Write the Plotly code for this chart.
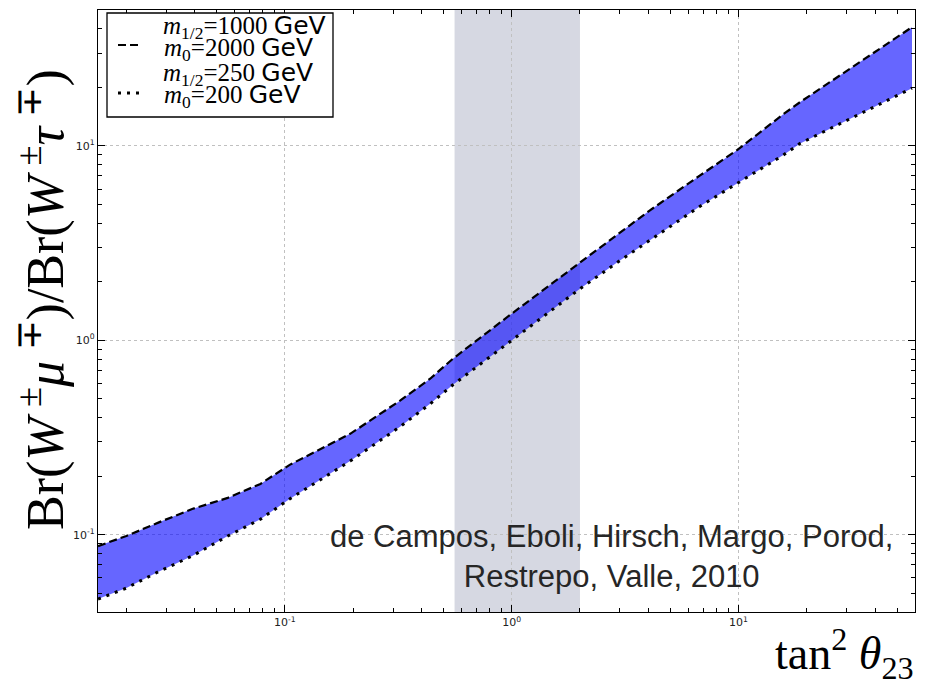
import plotly.graph_objects as go
import math

# data
tan2 = [0.015, 0.020, 0.028, 0.039, 0.056, 0.078, 0.105, 0.194, 0.322, 0.437, 0.551,
        1.0, 2.0, 3.0, 4.07, 6.77, 9.85, 15.7, 18.7, 26.1, 36.8, 58.2]
ratio_heavy = [0.0873, 0.0984, 0.116, 0.1355, 0.1545, 0.1824, 0.2286, 0.330, 0.489, 0.634, 0.804,
               1.37, 2.51, 3.59, 4.66, 7.05, 9.5, 14.5, 16.8, 21.8, 28.6, 40.8]
ratio_light = [0.0466, 0.0531, 0.0649, 0.0776, 0.0984, 0.120, 0.1527, 0.239, 0.359, 0.471, 0.590,
               1.0, 1.84, 2.57, 3.26, 4.89, 6.41, 8.94, 10.3, 12.5, 15.3, 19.8]
allowed_band = [0.56, 2.0]
x_range = [0.015, 60]
y_range = [0.04, 50]
tick_vals = [0.1, 1, 10]
tick_text = ["10<sup>-1</sup>", "10<sup>0</sup>", "10<sup>1</sup>"]

# page body has an 8px margin: plot area should sit at x 98..915, y 10..612 in the window
OFF = 8
PL, PR, PT, PB = 98, 915, 10, 612

fig = go.Figure()

fig.add_trace(go.Scatter(x=tan2, y=ratio_light, mode="lines",
                         line=dict(width=0), showlegend=False, hoverinfo="skip"))
fig.add_trace(go.Scatter(x=tan2, y=ratio_heavy, mode="lines", fill="tonexty",
                         fillcolor="rgba(0,0,255,0.6)", line=dict(width=0),
                         showlegend=False, hoverinfo="skip"))
fig.add_trace(go.Scatter(x=tan2, y=ratio_heavy, mode="lines",
                         line=dict(color="black", width=2.2, dash="8px,4px"),
                         showlegend=False))
fig.add_trace(go.Scatter(x=tan2, y=ratio_light, mode="lines",
                         line=dict(color="black", width=3, dash="3px,6px"),
                         showlegend=False))

fig.add_shape(type="rect", xref="x", yref="paper",
              x0=allowed_band[0], x1=allowed_band[1], y0=0, y1=1,
              fillcolor="rgb(214,216,226)", line=dict(width=0), layer="below")

axis_common = dict(type="log", showline=True, linecolor="black", linewidth=1.2,
                   mirror="allticks", ticks="inside", ticklen=7, tickcolor="black",
                   showgrid=True, gridcolor="#c0c0c0", griddash="dot", gridwidth=1,
                   zeroline=False,
                   tickfont=dict(family="DejaVu Sans", size=11, color="#222"),
                   minor=dict(ticks="inside", ticklen=4, tickcolor="black",
                              dtick="D1", showgrid=False),
                   tickvals=tick_vals, ticktext=tick_text)

fig.update_xaxes(range=[math.log10(x_range[0]), math.log10(x_range[1])], **axis_common)
fig.update_yaxes(range=[math.log10(y_range[0]), math.log10(y_range[1])], **axis_common)


def px_x(p):
    return (p - PL) / (PR - PL)


def px_y(p):
    return 1 - (p - PT) / (PB - PT)


serif = "Liberation Serif"
ts = "\u2009"
# y-axis title
fig.add_annotation(xref="paper", yref="paper", x=px_x(42), y=px_y(300),
                   text=f"Br(<i>W</i>{ts}<sup>±</sup><i>μ</i>{ts}<sup>∓</sup>)/Br(<i>W</i>{ts}<sup>±</sup><i>τ</i>{ts}<sup>∓</sup>)",
                   textangle=-90, showarrow=False, xanchor="center", yanchor="middle",
                   font=dict(family=serif, size=52, color="black"))
# x-axis title
fig.add_annotation(xref="paper", yref="paper", x=px_x(916), y=px_y(653),
                   text="tan<sup>2</sup> <i>θ</i><sub>23</sub>",
                   showarrow=False, xanchor="right", yanchor="middle",
                   font=dict(family=serif, size=46, color="black"))

# credit text
credit = "de Campos, Eboli, Hirsch, Margo, Porod,<br>Restrepo, Valle, 2010"
fig.add_annotation(xref="paper", yref="paper", x=px_x(611), y=px_y(556),
                   text=credit, showarrow=False, xanchor="center", yanchor="middle",
                   align="center",
                   font=dict(family="Liberation Sans", size=31, color="#262626"))

# legend (manual)
fig.add_shape(type="rect", xref="paper", yref="paper",
              x0=px_x(107), x1=px_x(333), y0=px_y(117), y1=px_y(13),
              line=dict(color="black", width=1.3), fillcolor="white", layer="above")

fig.add_shape(type="line", xref="paper", yref="paper",
              x0=px_x(118), x1=px_x(141), y0=px_y(45), y1=px_y(45),
              line=dict(color="black", width=2.2, dash="8px,4px"), layer="above")
fig.add_shape(type="line", xref="paper", yref="paper",
              x0=px_x(118), x1=px_x(141), y0=px_y(93), y1=px_y(93),
              line=dict(color="black", width=3, dash="3px,6px"), layer="above")

legend_lines = [
    (27, 244, "<i>m</i><sub>1/2</sub>=1000 <span style='font-family:DejaVu Sans'>GeV</span>"),
    (49, 238, "<i>m</i><sub>0</sub>=2000 <span style='font-family:DejaVu Sans'>GeV</span>"),
    (74, 238, "<i>m</i><sub>1/2</sub>=250 <span style='font-family:DejaVu Sans'>GeV</span>"),
    (96, 232, "<i>m</i><sub>0</sub>=200 <span style='font-family:DejaVu Sans'>GeV</span>"),
]
for yy, xx, t in legend_lines:
    fig.add_annotation(xref="paper", yref="paper", x=px_x(xx), y=px_y(yy),
                       text=t, showarrow=False, xanchor="center", yanchor="middle",
                       font=dict(family=serif, size=25, color="black"))

fig.update_layout(width=931 - OFF, height=685 - OFF,
                  margin=dict(l=PL - OFF, r=931 - PR, t=PT - OFF, b=685 - PB),
                  paper_bgcolor="white", plot_bgcolor="white",
                  showlegend=False)

fig.write_html("out.html")
